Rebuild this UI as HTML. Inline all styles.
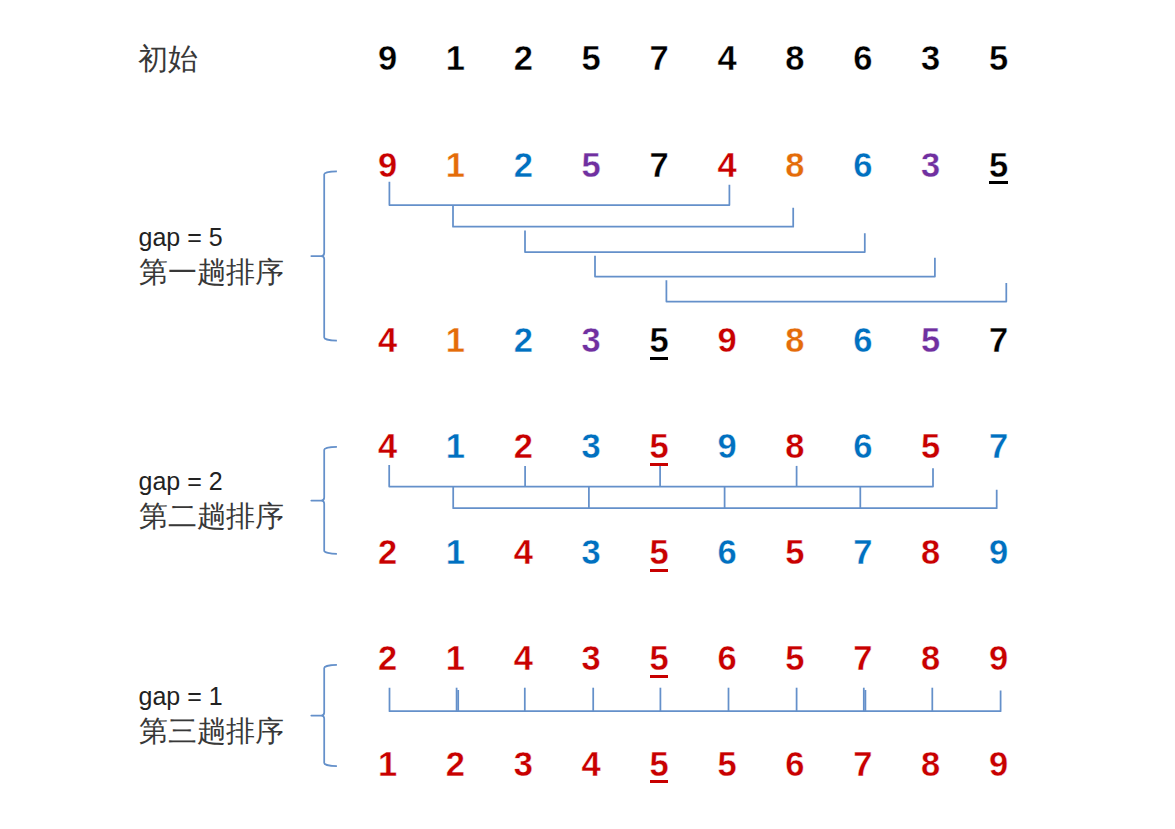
<!DOCTYPE html>
<html><head><meta charset="utf-8"><title>Shell sort</title>
<style>
html,body{margin:0;padding:0;background:#fff;}
body{width:1175px;height:829px;position:relative;overflow:hidden;font-family:"Liberation Sans",sans-serif;}
.d{position:absolute;width:40px;text-align:center;font-weight:bold;font-size:34.5px;line-height:34.5px;transform:scaleX(1.0);-webkit-text-stroke:0.35px #fff;}
.u{position:absolute;width:18.8px;height:3px;}
.lines{position:absolute;left:0;top:0;}
.lines path{fill:none;stroke:#6490CA;stroke-width:1.75;stroke-linejoin:round;stroke-linecap:butt;}
.zh{position:absolute;font-size:29.3px;line-height:40px;color:#383838;white-space:nowrap;}
.gap{position:absolute;font-size:25.0px;line-height:25.0px;color:#222;white-space:nowrap;}
</style></head><body>
<svg class="lines" width="1175" height="829" viewBox="0 0 1175 829"><path d="M 336.9 171.3 A 12.7 3.0 0 0 0 324.2 174.3 L 324.2 253.0 A 3.0 3.0 0 0 1 321.2 256.0 L 311.3 256.0 L 321.2 256.0 A 3.0 3.0 0 0 1 324.2 259.0 L 324.2 337.5 A 12.7 3.0 0 0 0 336.9 340.5"/><path d="M 336.9 446.8 A 12.7 3.0 0 0 0 324.2 449.8 L 324.2 497.6 A 3.0 3.0 0 0 1 321.2 500.6 L 311.3 500.6 L 321.2 500.6 A 3.0 3.0 0 0 1 324.2 503.6 L 324.2 550.8 A 12.7 3.0 0 0 0 336.9 553.8"/><path d="M 336.9 664.9 A 12.7 3.0 0 0 0 324.2 667.9 L 324.2 712.6 A 3.0 3.0 0 0 1 321.2 715.6 L 311.3 715.6 L 321.2 715.6 A 3.0 3.0 0 0 1 324.2 718.6 L 324.2 763.1 A 12.7 3.0 0 0 0 336.9 766.1"/><path d="M 389.4 181.7 V 205.0 H 729.4 V 184.8"/><path d="M 453.0 205.0 V 226.7 H 793.2 V 207.8"/><path d="M 525.0 230.5 V 252.0 H 864.8 V 233.3"/><path d="M 595.0 255.8 V 276.5 H 934.9 V 257.8"/><path d="M 666.4 280.3 V 301.5 H 1006.3 V 283.1"/><path d="M 389.2 465.1 V 486.5 H 933 V 468.3"/><path d="M 525.1 465.9 V 486.5"/><path d="M 660.1 465.9 V 486.5"/><path d="M 796.6 465.9 V 486.5"/><path d="M 453.2 486.5 V 508.2 H 996.7 V 489.7"/><path d="M 588.9 486.5 V 508.2"/><path d="M 724.6 486.5 V 508.2"/><path d="M 860.3 486.5 V 508.2"/><path d="M 389.5 687.7 V 711.2 H 1000.6 V 690.5"/><path d="M 456.6 687.7 V 711.2"/><path d="M 524.8 687.7 V 711.2"/><path d="M 593.2 687.7 V 711.2"/><path d="M 660.4 687.7 V 711.2"/><path d="M 728.5 687.7 V 711.2"/><path d="M 796.6 687.7 V 711.2"/><path d="M 863.8 687.7 V 711.2"/><path d="M 932.3 687.7 V 711.2"/><path d="M 458.2 690.0 V 711.2"/><path d="M 865.4 690.0 V 711.2"/></svg>
<div class="zh" style="left:137.5px;top:39.3px;font-size:29.5px">初始</div><div class="gap" style="left:138.5px;top:225.1px">gap = 5</div><div class="zh" style="left:139px;top:251.9px">第一趟排序</div><div class="gap" style="left:138.5px;top:469.4px">gap = 2</div><div class="zh" style="left:139px;top:496.4px">第二趟排序</div><div class="gap" style="left:138.5px;top:684.4px">gap = 1</div><div class="zh" style="left:139px;top:711.4px">第三趟排序</div>
<div class="d" style="left:367.5px;top:41.4px;color:#000000">9</div><div class="d" style="left:435.4px;top:41.4px;color:#000000">1</div><div class="d" style="left:503.3px;top:41.4px;color:#000000">2</div><div class="d" style="left:571.2px;top:41.4px;color:#000000">5</div><div class="d" style="left:639.1px;top:41.4px;color:#000000">7</div><div class="d" style="left:707.0px;top:41.4px;color:#000000">4</div><div class="d" style="left:774.9px;top:41.4px;color:#000000">8</div><div class="d" style="left:842.8px;top:41.4px;color:#000000">6</div><div class="d" style="left:910.7px;top:41.4px;color:#000000">3</div><div class="d" style="left:978.6px;top:41.4px;color:#000000">5</div><div class="d" style="left:367.5px;top:147.6px;color:#C80000">9</div><div class="d" style="left:435.4px;top:147.6px;color:#E46C0A">1</div><div class="d" style="left:503.3px;top:147.6px;color:#0070C0">2</div><div class="d" style="left:571.2px;top:147.6px;color:#7030A0">5</div><div class="d" style="left:639.1px;top:147.6px;color:#000000">7</div><div class="d" style="left:707.0px;top:147.6px;color:#C80000">4</div><div class="d" style="left:774.9px;top:147.6px;color:#E46C0A">8</div><div class="d" style="left:842.8px;top:147.6px;color:#0070C0">6</div><div class="d" style="left:910.7px;top:147.6px;color:#7030A0">3</div><div class="d" style="left:978.6px;top:147.6px;color:#000000">5</div><div class="u" style="left:989.2px;top:181.3px;background:#000000"></div><div class="d" style="left:367.5px;top:323.4px;color:#C80000">4</div><div class="d" style="left:435.4px;top:323.4px;color:#E46C0A">1</div><div class="d" style="left:503.3px;top:323.4px;color:#0070C0">2</div><div class="d" style="left:571.2px;top:323.4px;color:#7030A0">3</div><div class="d" style="left:639.1px;top:323.4px;color:#000000">5</div><div class="d" style="left:707.0px;top:323.4px;color:#C80000">9</div><div class="d" style="left:774.9px;top:323.4px;color:#E46C0A">8</div><div class="d" style="left:842.8px;top:323.4px;color:#0070C0">6</div><div class="d" style="left:910.7px;top:323.4px;color:#7030A0">5</div><div class="d" style="left:978.6px;top:323.4px;color:#000000">7</div><div class="u" style="left:649.7px;top:357.1px;background:#000000"></div><div class="d" style="left:367.5px;top:429.2px;color:#C80000">4</div><div class="d" style="left:435.4px;top:429.2px;color:#0070C0">1</div><div class="d" style="left:503.3px;top:429.2px;color:#C80000">2</div><div class="d" style="left:571.2px;top:429.2px;color:#0070C0">3</div><div class="d" style="left:639.1px;top:429.2px;color:#C80000">5</div><div class="d" style="left:707.0px;top:429.2px;color:#0070C0">9</div><div class="d" style="left:774.9px;top:429.2px;color:#C80000">8</div><div class="d" style="left:842.8px;top:429.2px;color:#0070C0">6</div><div class="d" style="left:910.7px;top:429.2px;color:#C80000">5</div><div class="d" style="left:978.6px;top:429.2px;color:#0070C0">7</div><div class="u" style="left:649.7px;top:462.9px;background:#C80000"></div><div class="d" style="left:367.5px;top:535.4px;color:#C80000">2</div><div class="d" style="left:435.4px;top:535.4px;color:#0070C0">1</div><div class="d" style="left:503.3px;top:535.4px;color:#C80000">4</div><div class="d" style="left:571.2px;top:535.4px;color:#0070C0">3</div><div class="d" style="left:639.1px;top:535.4px;color:#C80000">5</div><div class="d" style="left:707.0px;top:535.4px;color:#0070C0">6</div><div class="d" style="left:774.9px;top:535.4px;color:#C80000">5</div><div class="d" style="left:842.8px;top:535.4px;color:#0070C0">7</div><div class="d" style="left:910.7px;top:535.4px;color:#C80000">8</div><div class="d" style="left:978.6px;top:535.4px;color:#0070C0">9</div><div class="u" style="left:649.7px;top:569.1px;background:#C80000"></div><div class="d" style="left:367.5px;top:641.2px;color:#C80000">2</div><div class="d" style="left:435.4px;top:641.2px;color:#C80000">1</div><div class="d" style="left:503.3px;top:641.2px;color:#C80000">4</div><div class="d" style="left:571.2px;top:641.2px;color:#C80000">3</div><div class="d" style="left:639.1px;top:641.2px;color:#C80000">5</div><div class="d" style="left:707.0px;top:641.2px;color:#C80000">6</div><div class="d" style="left:774.9px;top:641.2px;color:#C80000">5</div><div class="d" style="left:842.8px;top:641.2px;color:#C80000">7</div><div class="d" style="left:910.7px;top:641.2px;color:#C80000">8</div><div class="d" style="left:978.6px;top:641.2px;color:#C80000">9</div><div class="u" style="left:649.7px;top:674.9px;background:#C80000"></div><div class="d" style="left:367.5px;top:746.7px;color:#C80000">1</div><div class="d" style="left:435.4px;top:746.7px;color:#C80000">2</div><div class="d" style="left:503.3px;top:746.7px;color:#C80000">3</div><div class="d" style="left:571.2px;top:746.7px;color:#C80000">4</div><div class="d" style="left:639.1px;top:746.7px;color:#C80000">5</div><div class="d" style="left:707.0px;top:746.7px;color:#C80000">5</div><div class="d" style="left:774.9px;top:746.7px;color:#C80000">6</div><div class="d" style="left:842.8px;top:746.7px;color:#C80000">7</div><div class="d" style="left:910.7px;top:746.7px;color:#C80000">8</div><div class="d" style="left:978.6px;top:746.7px;color:#C80000">9</div><div class="u" style="left:649.7px;top:780.4px;background:#C80000"></div>
</body></html>
